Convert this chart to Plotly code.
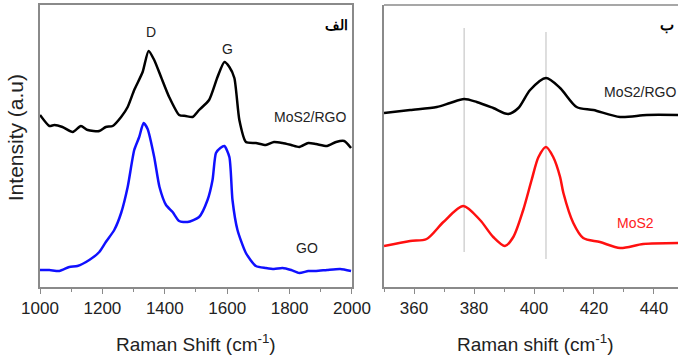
import plotly.graph_objects as go

# ---- Panel (a): D/G bands ----
rgo_x = [1000, 1030, 1046, 1072, 1105, 1131, 1153, 1190, 1211, 1233, 1260, 1281, 1302, 1329, 1348,
         1366, 1388, 1414, 1446, 1467, 1489, 1510, 1542, 1569, 1591, 1607, 1623, 1639, 1660, 1692,
         1724, 1750, 1777, 1805, 1831, 1860, 1885, 1920, 1949, 1975, 1997]
rgo_y = [172, 161, 162, 160, 155, 161, 157, 156, 160, 161, 170, 180, 197, 215, 236,
         227, 210, 190, 172, 171, 170, 177, 187, 210, 225, 220, 209, 167, 145, 144,
         142, 145, 144, 142, 140, 144, 143, 141, 145, 146, 139]

go_x = [1000, 1030, 1062, 1094, 1120, 1158, 1190, 1211, 1238, 1260, 1281, 1302, 1318, 1332,
        1345, 1366, 1383, 1404, 1425, 1446, 1473, 1510, 1537, 1553, 1564, 1578, 1591, 1607,
        1617, 1633, 1660, 1692, 1724, 1750, 1777, 1805, 1831, 1860, 1885, 1920, 1962, 1997]
go_y = [17, 17, 16, 20, 21, 27, 35, 45, 57, 74, 100, 137, 150, 164,
        158, 130, 100, 82, 75, 66, 65, 70, 87, 107, 134, 139, 141, 130,
        87, 57, 34, 21, 19, 18, 19, 17, 14, 16, 16, 17, 18, 16]

# ---- Panel (b): MoS2 modes ----
mrgo_x = [350, 358.7, 367.6, 372, 376.7, 380.9, 386.4, 391.4, 394.8, 398.7, 404, 408.7, 414.2,
          419.8, 428.7, 437.6, 448]
mrgo_y = [174, 177, 180, 184, 188, 185, 179, 173, 179, 197, 209, 199, 180, 177, 170, 172, 172]

mos2_x = [350, 358.7, 364.2, 369.8, 376.4, 382, 386.4, 390.3, 393.1, 396.4, 399.2, 401.5, 404,
          406.4, 408.7, 409.8, 413.1, 416.4, 422, 428.7, 436.4, 448]
mos2_y = [41, 46, 48, 65, 81, 67, 50, 41, 50, 77, 107, 130, 140, 130, 110, 94, 64, 49, 45, 39, 43, 44]

ref_lines_x = [376.7, 404]
ref_lines_top = [259, 255]
ref_lines_bottom = [35, 28]

left_ticks = [1000, 1200, 1400, 1600, 1800, 2000]
right_ticks = [360, 380, 400, 420, 440]

FONT = "Arial, Liberation Sans, sans-serif"

fig = go.Figure()
fig.add_trace(go.Scatter(x=rgo_x, y=rgo_y, mode="lines", line=dict(color="black", width=2.5, shape="spline", smoothing=0.6),
                         xaxis="x", yaxis="y", showlegend=False))
fig.add_trace(go.Scatter(x=go_x, y=go_y, mode="lines", line=dict(color="#1010ff", width=2.5, shape="spline", smoothing=0.6),
                         xaxis="x", yaxis="y", showlegend=False))
fig.add_trace(go.Scatter(x=mrgo_x, y=mrgo_y, mode="lines", line=dict(color="black", width=2.5, shape="spline", smoothing=0.8),
                         xaxis="x2", yaxis="y2", showlegend=False))
fig.add_trace(go.Scatter(x=mos2_x, y=mos2_y, mode="lines", line=dict(color="#ff1010", width=2.5, shape="spline", smoothing=0.8),
                         xaxis="x2", yaxis="y2", showlegend=False))

shapes = []
for xv, yt, yb in zip(ref_lines_x, ref_lines_top, ref_lines_bottom):
    shapes.append(dict(type="line", xref="x2", yref="y2", x0=xv, x1=xv, y0=yb, y1=yt,
                       line=dict(color="#bdbdbd", width=1), layer="below"))
# top border of right panel
shapes.append(dict(type="line", xref="x2 domain", yref="y2 domain", x0=0, x1=1, y0=1, y1=1,
                   line=dict(color="#8a8a8a", width=1.5)))

axis_common = dict(showline=True, linecolor="#8a8a8a", linewidth=1.5, showgrid=False, zeroline=False,
                   ticks="outside", ticklen=5, tickcolor="#8a8a8a", tickwidth=1, automargin=False,
                   tickfont=dict(family=FONT, size=17, color="#222"))
yaxis_common = dict(domain=[0, 1], range=[0, 282], showticklabels=False, showline=True,
                    linecolor="#8a8a8a", linewidth=1.5, showgrid=False, zeroline=False, ticks="",
                    automargin=False)

fig.update_layout(
    width=678, height=356, autosize=False,
    margin=dict(l=40, r=0, t=5, b=69, autoexpand=False),
    paper_bgcolor="white", plot_bgcolor="white",
    xaxis=dict(domain=[0, 0.489], range=[1000, 2000], tickvals=left_ticks, mirror=True,
               minor=dict(dtick=100, tick0=1000, ticks="outside", ticklen=3, tickcolor="#8a8a8a", showgrid=False),
               anchor="y", **axis_common),
    yaxis=dict(mirror=True, anchor="x", **yaxis_common),
    xaxis2=dict(domain=[0.5392, 1], range=[350, 448], tickvals=right_ticks, mirror=False,
                minor=dict(dtick=10, tick0=350, ticks="outside", ticklen=3, tickcolor="#8a8a8a", showgrid=False),
                anchor="y2", **axis_common),
    yaxis2=dict(mirror=False, anchor="x2", **yaxis_common),
    shapes=shapes,
)

ann = []
def a(text, x, y, xref, yref, size=14, color="#222", xanchor="center", yanchor="middle", **kw):
    ann.append(dict(text=text, x=x, y=y, xref=xref, yref=yref, showarrow=False,
                    xanchor=xanchor, yanchor=yanchor,
                    font=dict(family=FONT, size=size, color=color), **kw))

a("D", 1357, 255, "x", "y")
a("G", 1601, 238, "x", "y")
a("MoS2/RGO", 1864, 170, "x", "y")
a("GO", 1855, 39, "x", "y")
a("<b>الف</b>", 1951, 262, "x", "y", size=14, color="black")
a("<b>ب</b>", 444.3, 262, "x2", "y2", size=15, color="black")
a("MoS2/RGO", 1.0, 195, "paper", "y2", xanchor="right")
a("MoS2", 427, 64, "x2", "y2", color="#ff2020", xanchor="left")
a("Raman Shift (cm<sup>-1</sup>)", 0.2445, -0.20, "paper", "paper", size=19)
a("Raman shift (cm<sup>-1</sup>)", 0.776, -0.20, "paper", "paper", size=19)
a("Intensity (a.u)", -0.039, 0.528, "paper", "paper", size=21, textangle=-90)
fig.update_layout(annotations=ann)

fig.write_html("out.html", config={"displayModeBar": False})
